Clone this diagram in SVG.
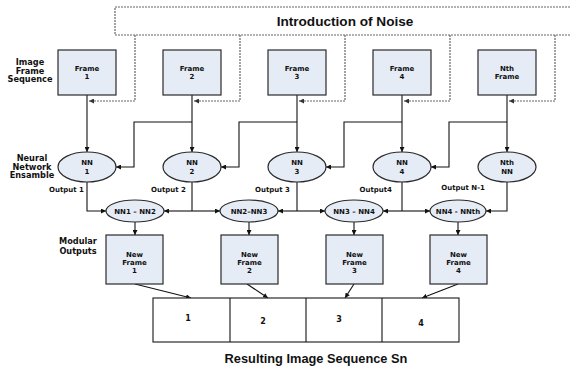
<svg xmlns="http://www.w3.org/2000/svg" width="571" height="377" viewBox="0 0 571 377">
<defs>
<style>
.box{fill:#e6ecf6;stroke:#2a2a2a;stroke-width:1.2}
.seq{fill:#ffffff;stroke:#2a2a2a;stroke-width:1.2}
.noise{fill:none;stroke:#666;stroke-width:1.2;stroke-dasharray:2 1}
.ln{fill:none;stroke:#111;stroke-width:1.1}
.ar{marker-end:url(#ah)}
.dar{marker-end:url(#ahg)}
text{font-family:"DejaVu Sans","Liberation Sans",sans-serif;font-weight:bold;fill:#111;text-anchor:middle}
.t{font-size:7px}
.n{font-size:8px}
.s{font-size:8.2px}
.o{font-size:7px;text-anchor:end}
.big{font-family:"Liberation Sans",Arial,sans-serif;font-size:13.6px}
.big2{font-family:"Liberation Sans",Arial,sans-serif;font-size:12.8px}
</style>
<marker id="ah" viewBox="0 0 8 8" refX="8" refY="4" markerWidth="5" markerHeight="5" markerUnits="userSpaceOnUse" orient="auto"><path d="M0,0 L8,4 L0,8 z" fill="#111"/></marker>
<marker id="ahg" viewBox="0 0 8 8" refX="8" refY="4" markerWidth="5" markerHeight="5" markerUnits="userSpaceOnUse" orient="auto"><path d="M0,0 L8,4 L0,8 z" fill="#333"/></marker>
</defs>

<g id="noise">
<rect class="noise" x="115" y="7" width="470" height="28"/>
<text class="big" x="345" y="26">Introduction of Noise</text>
</g>

<g id="labels">
<text class="s" x="30" y="65">Image</text>
<text class="s" x="30" y="73.5">Frame</text>
<text class="s" x="30" y="82">Sequence</text>
<text class="s" x="32" y="161">Neural</text>
<text class="s" x="32" y="169.5">Network</text>
<text class="s" x="32" y="178">Ensamble</text>
<text class="s" x="78" y="244">Modular</text>
<text class="s" x="78" y="253.5">Outputs</text>
<text class="o" x="84" y="192">Output 1</text>
<text class="o" x="186" y="192">Output 2</text>
<text class="o" x="290" y="192">Output 3</text>
<text class="o" x="392" y="192">Output4</text>
<text class="o" x="485" y="189.5">Output N-1</text>
<text class="big2" x="316" y="363">Resulting Image Sequence Sn</text>
</g>

<g id="connectors">
<path class="noise dar" d="M135,35 V101 H89"/>
<path class="noise dar" d="M240,35 V101 H194"/>
<path class="noise dar" d="M345,35 V101 H299"/>
<path class="noise dar" d="M450,35 V101 H404"/>
<path class="noise dar" d="M555,35 V101 H509"/>
<path class="ln ar" d="M87,95 V152"/>
<path class="ln ar" d="M192,95 V152"/>
<path class="ln ar" d="M297,95 V152"/>
<path class="ln ar" d="M402,95 V152"/>
<path class="ln ar" d="M507,95 V152"/>
<path class="ln ar" d="M192,122 H134 V167 H116"/>
<path class="ln ar" d="M297,122 H239 V167 H221"/>
<path class="ln ar" d="M402,122 H344 V167 H326"/>
<path class="ln ar" d="M507,122 H449 V167 H431"/>
<path class="ln ar" d="M87,182 V211 H106"/>
<path class="ln" d="M192,182 V211"/>
<path class="ln ar" d="M192,211 H164"/>
<path class="ln ar" d="M192,211 H220"/>
<path class="ln" d="M297,182 V211"/>
<path class="ln ar" d="M297,211 H278"/>
<path class="ln ar" d="M297,211 H325"/>
<path class="ln" d="M402,182 V211"/>
<path class="ln ar" d="M402,211 H383"/>
<path class="ln ar" d="M402,211 H430"/>
<path class="ln ar" d="M507,182 V211 H486"/>
<path class="ln ar" d="M135,222 V235"/>
<path class="ln ar" d="M249,222 V235"/>
<path class="ln ar" d="M354,222 V235"/>
<path class="ln ar" d="M458,222 V235"/>
<path class="ln ar" d="M135,284 L191,298"/>
<path class="ln ar" d="M247,284 L268,298"/>
<path class="ln ar" d="M354,284 L345,298"/>
<path class="ln ar" d="M458,284 L422,298"/>
</g>

<g id="frame1"><rect class="box" x="58" y="50" width="58" height="45"/><text class="t" x="87" y="70.5">Frame</text><text class="t" x="87" y="78.5">1</text></g>
<g id="frame2"><rect class="box" x="163" y="50" width="58" height="45"/><text class="t" x="192" y="70.5">Frame</text><text class="t" x="192" y="78.5">2</text></g>
<g id="frame3"><rect class="box" x="268" y="50" width="58" height="45"/><text class="t" x="297" y="70.5">Frame</text><text class="t" x="297" y="78.5">3</text></g>
<g id="frame4"><rect class="box" x="373" y="50" width="58" height="45"/><text class="t" x="402" y="70.5">Frame</text><text class="t" x="402" y="78.5">4</text></g>
<g id="frameN"><rect class="box" x="478" y="50" width="58" height="45"/><text class="t" x="507" y="70.5">Nth</text><text class="t" x="507" y="78.5">Frame</text></g>

<g id="nn1"><ellipse class="box" cx="87" cy="167" rx="29" ry="15"/><text class="t" x="87" y="165">NN</text><text class="t" x="87" y="173.5">1</text></g>
<g id="nn2"><ellipse class="box" cx="192" cy="167" rx="29" ry="15"/><text class="t" x="192" y="165">NN</text><text class="t" x="192" y="173.5">2</text></g>
<g id="nn3"><ellipse class="box" cx="297" cy="167" rx="29" ry="15"/><text class="t" x="297" y="165">NN</text><text class="t" x="297" y="173.5">3</text></g>
<g id="nn4"><ellipse class="box" cx="402" cy="167" rx="29" ry="15"/><text class="t" x="402" y="165">NN</text><text class="t" x="402" y="173.5">4</text></g>
<g id="nnN"><ellipse class="box" cx="507" cy="167" rx="29" ry="15"/><text class="t" x="507" y="165">Nth</text><text class="t" x="507" y="173.5">NN</text></g>

<g id="nn12"><ellipse class="box" cx="135" cy="211" rx="29" ry="11"/><text class="t" x="135" y="213.5">NN1 – NN2</text></g>
<g id="nn23"><ellipse class="box" cx="249" cy="211" rx="29" ry="11"/><text class="t" x="249" y="213.5">NN2–NN3</text></g>
<g id="nn34"><ellipse class="box" cx="354" cy="211" rx="29" ry="11"/><text class="t" x="354" y="213.5">NN3 – NN4</text></g>
<g id="nn4N"><ellipse class="box" cx="458" cy="211" rx="28" ry="11"/><text class="t" x="458" y="213.5">NN4 - NNth</text></g>

<g id="newframe1"><rect class="box" x="106" y="235" width="57" height="49"/><text class="t" x="134.5" y="256.5">New</text><text class="t" x="134.5" y="264.5">Frame</text><text class="t" x="134.5" y="272.5">1</text></g>
<g id="newframe2"><rect class="box" x="221" y="235" width="57" height="49"/><text class="t" x="249.5" y="256.5">New</text><text class="t" x="249.5" y="264.5">Frame</text><text class="t" x="249.5" y="272.5">2</text></g>
<g id="newframe3"><rect class="box" x="326" y="235" width="57" height="49"/><text class="t" x="354.5" y="256.5">New</text><text class="t" x="354.5" y="264.5">Frame</text><text class="t" x="354.5" y="272.5">3</text></g>
<g id="newframe4"><rect class="box" x="430" y="235" width="57" height="49"/><text class="t" x="458.5" y="256.5">New</text><text class="t" x="458.5" y="264.5">Frame</text><text class="t" x="458.5" y="272.5">4</text></g>

<g id="sequence">
<rect class="seq" x="153" y="298" width="306" height="44"/>
<line class="ln" x1="230" y1="298" x2="230" y2="342"/>
<line class="ln" x1="306" y1="298" x2="306" y2="342"/>
<line class="ln" x1="382" y1="298" x2="382" y2="342"/>
<text class="n" x="188" y="321">1</text>
<text class="n" x="263" y="324">2</text>
<text class="n" x="339" y="322">3</text>
<text class="n" x="421" y="326">4</text>
</g>
</svg>
